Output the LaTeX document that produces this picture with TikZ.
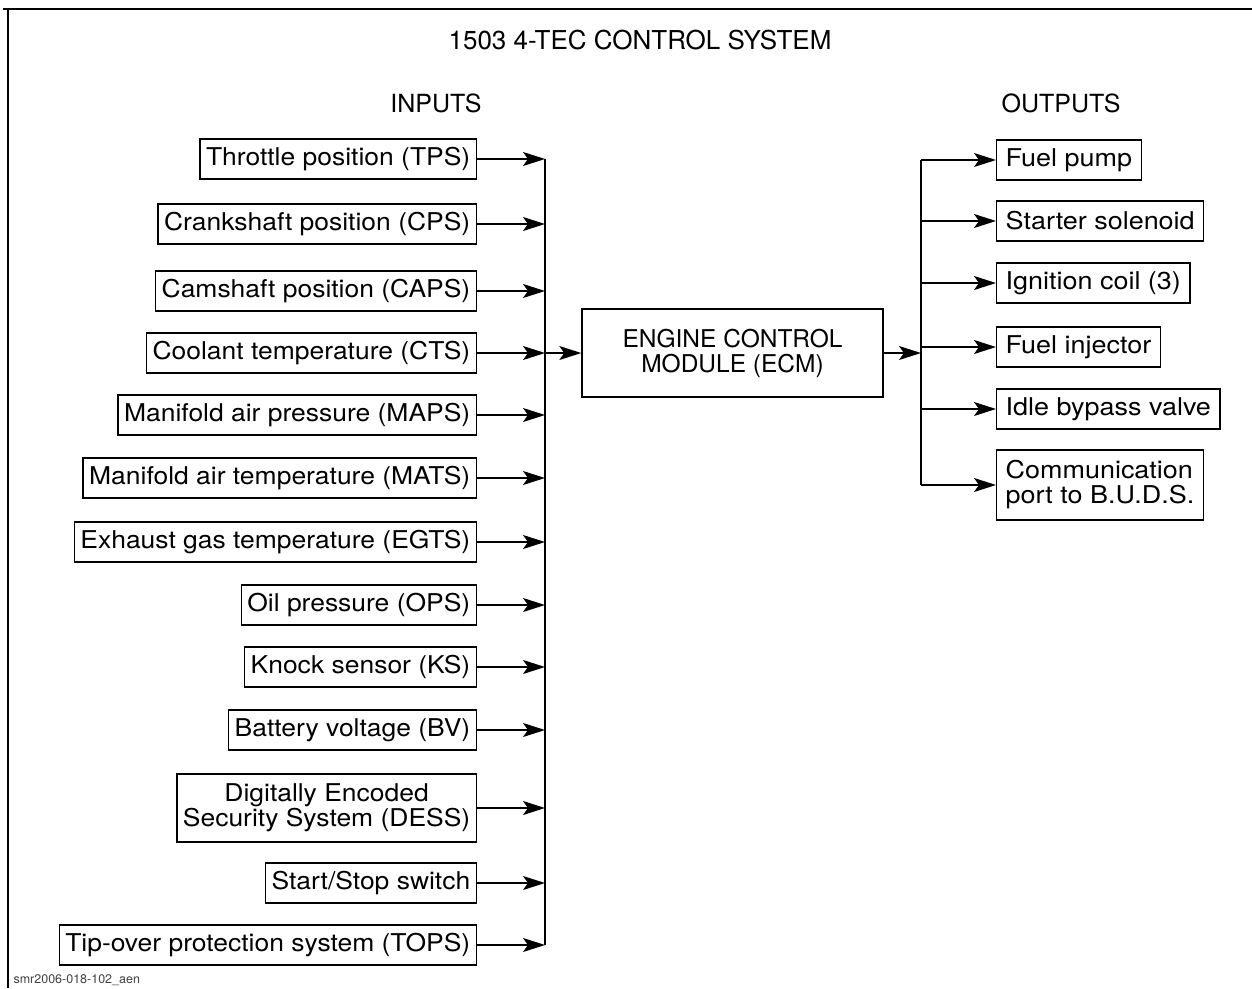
\documentclass[tikz,border=0pt]{standalone}
\usepackage{fontspec}
\setmainfont{TeX Gyre Heros}
\newfontfamily\widefont[FakeStretch=1.1]{TeX Gyre Heros}
\newfontfamily\inpfont[FakeStretch=1.08]{TeX Gyre Heros}
\usetikzlibrary{arrows.meta}
\begin{document}
\begin{tikzpicture}[x=1pt,y=-1pt,
  box/.style={draw,line width=1.4pt,inner xsep=9pt,inner ysep=2pt,minimum height=40pt,font=\widefont\fontsize{24.5}{26}\selectfont,align=center},
  ibox/.style={box,inner xsep=6pt,font=\inpfont\fontsize{24.5}{26}\selectfont,anchor=east},
  arr/.style={line width=1.4pt,-{Stealth[length=22pt,width=14pt,inset=5pt]}},
  bus/.style={line width=1.4pt},
  lbl/.style={font=\fontsize{25}{27}\selectfont}]
\useasboundingbox (0,0) rectangle (1252,988);
% frame
\coordinate (ftl) at (8,9);
\coordinate (ftr) at (1252,9);
\coordinate (fbl) at (8,988);
\coordinate (ftl0) at (3,9);
\draw[line width=2.5pt] (ftl0) -- (ftr);
\draw[line width=1.8pt] (ftl) -- (fbl);
% titles
\node[font=\fontsize{26}{28}\selectfont] (title) at (640,40) {1503 4-TEC CONTROL SYSTEM};
\node[lbl] (inputs) at (436,103) {INPUTS};
\node[lbl] (outputs) at (1061,103) {OUTPUTS};
\node[font=\fontsize{12.5}{13}\selectfont,anchor=west,text=black!75] (foot) at (10,980) {smr2006-018-102\_aen};
% inputs
\node[ibox] (i1) at (477,159) {Throttle position (TPS)};
\node[ibox] (i2) at (477,224) {Crankshaft position (CPS)};
\node[ibox] (i3) at (477,291) {Camshaft position (CAPS)};
\node[ibox] (i4) at (477,353) {Coolant temperature (CTS)};
\node[ibox] (i5) at (477,415) {Manifold air pressure (MAPS)};
\node[ibox] (i6) at (477,478) {Manifold air temperature (MATS)};
\node[ibox] (i7) at (477,542) {Exhaust gas temperature (EGTS)};
\node[ibox] (i8) at (477,605) {Oil pressure (OPS)};
\node[ibox] (i9) at (477,667) {Knock sensor (KS)};
\node[ibox] (i10) at (477,730) {Battery voltage (BV)};
\node[ibox,minimum height=68pt,font=\inpfont\fontsize{24.5}{25}\selectfont] (i11) at (477,808) {Digitally Encoded\\Security System (DESS)};
\node[ibox] (i12) at (477,883) {Start/Stop switch};
\node[ibox] (i13) at (477,945) {Tip-over protection system (TOPS)};
% input bus
\coordinate (ibx) at (545,0);
\draw[bus] (i1.east -| ibx) -- (i13.east -| ibx);
\foreach \k in {1,...,13} {\draw[arr] (i\k.east) -- (i\k.east -| ibx);}
% ECM
\node[box,minimum width=301pt,minimum height=88pt,font=\fontsize{24.5}{25}\selectfont] (ecm) at (732.5,353) {ENGINE CONTROL\\MODULE (ECM)};
\draw[arr] (i4.east -| ibx) -- (ecm.west);
% outputs
\node[box,anchor=west] (o1) at (996,160) {Fuel pump};
\node[box,anchor=west] (o2) at (996,221) {Starter solenoid};
\node[box,anchor=west] (o3) at (996,283) {Ignition coil (3)};
\node[box,anchor=west] (o4) at (996,347) {Fuel injector};
\node[box,anchor=west] (o5) at (996,409) {Idle bypass valve};
\node[box,anchor=west,minimum height=70pt,align=left,font=\widefont\fontsize{24.5}{25}\selectfont] (o6) at (996,485) {Communication\\port to B.U.D.S.};
\coordinate (obx) at (921,0);
\draw[bus] (o1.west -| obx) -- (o6.west -| obx);
\draw[arr] (ecm.east) -- (ecm.east -| obx);
\foreach \k in {1,...,6} {\draw[arr] (o\k.west -| obx) -- (o\k.west);}
\end{tikzpicture}
\end{document}
